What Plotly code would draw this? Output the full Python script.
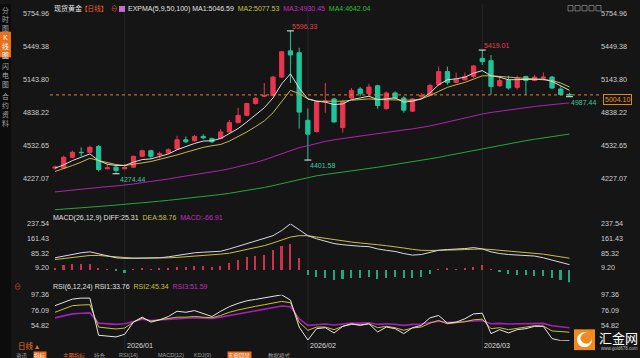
import plotly.graph_objects as go
import pandas as pd

W, H = 640, 358
BG = "#151515"
FONT = "Liberation Sans, Noto Sans CJK SC, sans-serif"

# ---------------- data ----------------
dates = [d.strftime("%Y-%m-%d") for d in pd.bdate_range("2025-12-19", "2026-03-16")
         if d.strftime("%Y-%m-%d") not in ("2025-12-25", "2026-01-01")]

opens = [4327, 4327, 4427, 4473, 4473, 4528, 4321, 4336, 4321, 4336,
         4436, 4488, 4449, 4467, 4504, 4589, 4580, 4620, 4601, 4601,
         4662, 4748, 4815, 4925, 4992, 4998, 5169, 5412, 5394, 4769,
         4665, 4940, 4967, 4702, 4976, 5059, 5016, 5089, 4876, 5022,
         4976, 4854, 4992, 4998, 5098, 5220, 5120, 5144, 5175, 5342,
         5321, 5089, 5138, 5074, 5175, 5138, 5159, 5169, 5059, 5010]
highs = [4351, 4443, 4488, 4519, 4534, 4540, 4366, 4345, 4366, 4443,
         4497, 4497, 4479, 4510, 4626, 4620, 4632, 4641, 4610, 4687,
         4772, 4885, 4931, 4985, 5114, 5181, 5413, 5596.33, 5440, 4879,
         4952, 5114, 4976, 4961, 5068, 5077, 5107, 5098, 5037, 5037,
         4992, 4976, 5022, 5107, 5266, 5266, 5211, 5211, 5281, 5419.01,
         5373, 5181, 5181, 5181, 5181, 5190, 5211, 5181, 5083, 5025]
lows = [4314, 4321, 4418, 4436, 4467, 4296, 4314, 4274.44, 4314, 4330,
        4427, 4412, 4418, 4458, 4497, 4559, 4571, 4595, 4559, 4595,
        4656, 4741, 4809, 4915, 4985, 4992, 5159, 5114, 4693, 4401.58,
        4656, 4839, 4748, 4656, 4967, 4992, 4992, 4876, 4870, 4967,
        4839, 4845, 4976, 4992, 5089, 5098, 5114, 5138, 5159, 5281,
        5007, 5077, 5053, 5053, 5007, 5129, 5144, 5059, 4998, 4987.44]
closes = [4336, 4427, 4473, 4470, 4519, 4314, 4330, 4305, 4333, 4436,
          4488, 4436, 4461, 4497, 4589, 4571, 4620, 4607, 4571, 4662,
          4748, 4815, 4925, 4973, 4998, 5169, 5403, 5373, 4845, 4641,
          4940, 4946, 4754, 4940, 5046, 5016, 5077, 4906, 5022, 4976,
          4863, 4967, 4998, 5092, 5220, 5120, 5150, 5175, 5272, 5312,
          5083, 5138, 5068, 5159, 5138, 5169, 5169, 5068, 5007, 5004.10]

ema5 = [4327, 4357, 4397, 4427, 4458, 4397, 4363, 4351, 4351, 4382,
        4406, 4412, 4437, 4458, 4497, 4528, 4555, 4577, 4580, 4601,
        4650, 4693, 4754, 4824, 4885, 4976, 5107, 5199, 5068, 4967,
        4946, 4937, 4915, 4921, 4961, 4976, 4992, 4961, 4967, 4976,
        4937, 4946, 4967, 5022, 5098, 5144, 5153, 5168, 5205, 5229,
        5181, 5168, 5144, 5144, 5144, 5144, 5150, 5129, 5089, 5046.59]
ema9 = [4296, 4321, 4351, 4382, 4418, 4397, 4375, 4360, 4351, 4360,
        4375, 4388, 4406, 4424, 4449, 4473, 4497, 4519, 4534, 4546,
        4577, 4619, 4662, 4711, 4763, 4839, 4946, 5046, 5016, 4967,
        4946, 4946, 4946, 4946, 4955, 4961, 4967, 4961, 4961, 4961,
        4955, 4955, 4967, 4998, 5037, 5074, 5098, 5120, 5150, 5181,
        5181, 5175, 5169, 5162, 5159, 5156, 5150, 5138, 5114, 5077.53]
ema50 = [4107, 4116, 4125, 4135, 4144, 4150, 4156, 4162, 4168, 4180,
         4193, 4202, 4214, 4226, 4241, 4253, 4266, 4278, 4290, 4305,
         4321, 4339, 4357, 4379, 4403, 4430, 4461, 4491, 4516, 4534,
         4555, 4574, 4589, 4601, 4613, 4626, 4638, 4650, 4662, 4671,
         4680, 4690, 4702, 4717, 4735, 4754, 4772, 4790, 4809, 4827,
         4842, 4854, 4867, 4879, 4888, 4897, 4906, 4912, 4921, 4930.45]
ema100 = [3942, 3947, 3953, 3959, 3965, 3972, 3978, 3985, 3991, 3998,
          4006, 4013, 4021, 4029, 4037, 4046, 4055, 4064, 4073, 4083,
          4094, 4106, 4119, 4133, 4148, 4165, 4184, 4204, 4222, 4240,
          4256, 4268, 4278, 4289, 4300, 4312, 4324, 4335, 4347, 4359,
          4371, 4383, 4396, 4410, 4426, 4443, 4459, 4475, 4492, 4508,
          4523, 4538, 4553, 4568, 4581, 4594, 4606, 4617, 4630, 4642.04]

diff = [61, 70, 78, 87, 92, 82, 70, 61, 58, 59,
        61, 61, 61, 66, 73, 82, 87, 90, 92, 95,
        107, 121, 135, 147, 159, 176, 203, 237.54, 207, 176,
        160, 147, 135, 129, 124, 121, 119, 107, 100, 94,
        83, 75, 78, 90, 100, 104, 105, 109, 114, 107,
        92, 83, 78, 76, 73, 70, 61, 49, 39, 25.31]
dea = [52, 58, 63, 68, 73, 73, 70, 64, 61, 59,
       59, 59, 59, 61, 63, 66, 70, 73, 76, 80,
       85, 94, 104, 114, 124, 138, 155, 169, 176, 176,
       169, 162, 155, 148, 143, 138, 135, 129, 124, 119,
       112, 105, 100, 99, 99, 100, 102, 104, 105, 107,
       104, 100, 95, 92, 88, 85, 80, 73, 66, 58.76]
macd_hist = [8, 22, 28, 30, 32, 10, 3, -8, -15, 3,
             4, 3, 5, 6, 15, 15, 18, 18, 16, 20,
             35, 50, 68, 72, 78, 100, 124, 135, 62, -30,
             -40, -45, -52, -50, -42, -42, -40, -48, -42, -40,
             -44, -44, -38, -20, 3, 5, 3, 8, 12, 22,
             2, -12, -25, -28, -30, -32, -34, -44, -56, -66.91]

rsi1 = [82.3, 86.8, 91.4, 92.8, 92.8, 41.1, 39.7, 38.8, 42.5, 59.4,
        66.3, 59.4, 62.6, 67.2, 74.5, 73.1, 75.4, 70.8, 67.2, 74.5,
        80.9, 85.5, 89.1, 91.0, 92.8, 94.6, 97.36, 90.0, 52.5, 34.5,
        50.3, 51.6, 44.3, 53.5, 57.1, 54.8, 57.1, 45.7, 52.5, 50.3,
        43.4, 51.6, 54.8, 65.3, 68.6, 58.0, 59.4, 64.0, 70.8, 71.8,
        43.4, 48.9, 44.3, 48.9, 50.3, 53.5, 53.5, 36.5, 33.55, 33.76]
rsi2 = [73.1, 77.7, 82.3, 83.2, 83.6, 52.5, 51.2, 49.8, 51.2, 59.4,
        64.9, 60.8, 62.6, 64.4, 66.3, 66.3, 67.2, 66.3, 65.4, 68.6,
        73.1, 76.3, 79.1, 81.4, 83.6, 85.9, 88.2, 86.4, 59.4, 48.0,
        52.5, 52.5, 48.9, 53.5, 56.2, 55.7, 57.1, 51.6, 53.5, 51.6,
        48.0, 51.2, 52.5, 58.0, 61.7, 57.1, 58.0, 59.9, 62.6, 63.5,
        50.3, 51.6, 48.9, 51.2, 52.5, 54.4, 53.9, 47.1, 46.5, 45.34]
rsi3 = [65.3, 68.1, 70.8, 71.8, 72.2, 58.0, 57.1, 56.2, 57.1, 60.8,
        63.5, 61.7, 62.6, 63.5, 64.4, 64.9, 65.4, 64.9, 64.4, 66.3,
        68.6, 70.8, 73.1, 75.4, 77.2, 79.1, 81.8, 80.9, 64.0, 54.8,
        56.2, 56.7, 55.3, 57.1, 58.0, 58.0, 58.5, 56.2, 57.1, 56.2,
        54.8, 56.2, 56.7, 58.9, 60.8, 58.9, 59.4, 59.9, 61.2, 61.7,
        57.1, 57.6, 56.7, 57.1, 57.6, 58.0, 57.6, 54.4, 52.5, 51.59]

price_ticks = [4227.07, 4532.65, 4838.22, 5143.80, 5449.38, 5754.96]
price_min = 3921.49
macd_ticks = [9.20, 85.32, 161.43, 237.54]
macd_min = -66.91
rsi_ticks = [54.82, 76.09, 97.36]
rsi_min = 33.55

month_starts = ["2026-01-02", "2026-02-02", "2026-03-02"]
month_labels = ["2026/01", "2026/02", "2026/03"]

high_marks = [27, 49]       # indices of labelled highs
low_marks = [7, 29, 59]     # indices of labelled lows

# ---------------- colours ----------------
UP, DOWN = "#e8364e", "#1ec49a"
C_E5, C_E9, C_E50, C_E100 = "#dcdcdc", "#c8b850", "#b022b0", "#22a83a"
C_Y, C_M = "#c8c040", "#c02cc0"


def px(x):
    return x / W


def py(y):
    return 1 - y / H


fig = go.Figure()

fig.add_trace(go.Candlestick(
    x=dates, open=opens, high=highs, low=lows, close=closes,
    increasing=dict(line=dict(color=UP, width=1), fillcolor=UP),
    decreasing=dict(line=dict(color=DOWN, width=1), fillcolor=DOWN),
    yaxis="y", hoverinfo="skip"))

for arr, col in [(ema100, C_E100), (ema50, C_E50), (ema9, C_E9), (ema5, C_E5)]:
    fig.add_trace(go.Scatter(x=dates, y=arr, mode="lines", yaxis="y",
                             line=dict(color=col, width=1), hoverinfo="skip"))

fig.add_trace(go.Scatter(
    x=[dates[i] for i in high_marks] + [dates[i] for i in low_marks],
    y=[highs[i] for i in high_marks] + [lows[i] for i in low_marks],
    mode="markers", yaxis="y",
    marker=dict(symbol="line-ew", size=5, line=dict(color="#f0f0f0", width=1)),
    hoverinfo="skip"))

fig.add_trace(go.Bar(x=dates, y=macd_hist, yaxis="y2", width=0.18,
                     marker=dict(color=["#d0304c" if v >= 0 else "#1fa77f" for v in macd_hist],
                                 line=dict(width=0)),
                     hoverinfo="skip"))
fig.add_trace(go.Scatter(x=dates, y=dea, mode="lines", yaxis="y2",
                         line=dict(color=C_Y, width=1), hoverinfo="skip"))
fig.add_trace(go.Scatter(x=dates, y=diff, mode="lines", yaxis="y2",
                         line=dict(color="#d8d8e8", width=1), hoverinfo="skip"))

fig.add_trace(go.Scatter(x=dates, y=rsi3, mode="lines", yaxis="y3",
                         line=dict(color="#a020b8", width=1.6), hoverinfo="skip"))
fig.add_trace(go.Scatter(x=dates, y=rsi2, mode="lines", yaxis="y3",
                         line=dict(color=C_Y, width=1), hoverinfo="skip"))
fig.add_trace(go.Scatter(x=dates, y=rsi1, mode="lines", yaxis="y3",
                         line=dict(color="#e6e6e6", width=1), hoverinfo="skip"))

# invisible traces to materialise right-hand axes
for ax, val in [("y4", closes[0]), ("y5", diff[0]), ("y6", rsi1[0])]:
    fig.add_trace(go.Scatter(x=[dates[0]], y=[val], yaxis=ax, mode="markers",
                             marker=dict(opacity=0), hoverinfo="skip"))


def fmt(v):
    return f"{v:.2f}"


def yax(domain, rng, ticks, side="left", overlay=None):
    d = dict(range=rng, tickmode="array", tickvals=ticks, ticktext=[fmt(t) for t in ticks],
             showgrid=False, zeroline=False, showline=False, ticks="", ticklen=0,
             tickfont=dict(size=7.2, color="#cfcfcf", family=FONT), side=side,
             anchor="x", fixedrange=True)
    if overlay:
        d["overlaying"] = overlay
    else:
        d["domain"] = domain
    return d


main_rng = [price_min, price_ticks[-1] + 0.5]
macd_rng = [macd_min, macd_ticks[-1] + 0.3]
rsi_rng = [rsi_min, rsi_ticks[-1] + 0.15]

dom_main = [py(210.3), py(9.8)]
dom_macd = [py(281.5), py(222.3)]
dom_rsi = [py(340.5), py(294)]

fig.update_layout(
    width=W, height=H, margin=dict(l=0, r=0, t=0, b=0),
    paper_bgcolor=BG, plot_bgcolor=BG, showlegend=False, hovermode=False,
    font=dict(family=FONT, size=7, color="#cfcfcf"),
    xaxis=dict(type="category", range=[(50 - 55) / 8.72, (600 - 55) / 8.72],
               domain=[px(50), px(600)], showgrid=False, zeroline=False, showline=False,
               showticklabels=False, ticks="", anchor="y3", fixedrange=True,
               rangeslider=dict(visible=False)),
    yaxis=yax(dom_main, main_rng, price_ticks),
    yaxis2=yax(dom_macd, macd_rng, macd_ticks),
    yaxis3=yax(dom_rsi, rsi_rng, rsi_ticks),
    yaxis4=yax(None, main_rng, price_ticks, side="right", overlay="y"),
    yaxis5=yax(None, macd_rng, macd_ticks, side="right", overlay="y2"),
    yaxis6=yax(None, rsi_rng, rsi_ticks, side="right", overlay="y3"),
    bargap=0,
)

shapes = []
ann = []


def A(text, x, y, size=7, color="#d0d0d0", xanchor="left", yanchor="middle", **kw):
    d = dict(text=text, x=px(x), y=py(y), xref="paper", yref="paper", xanchor=xanchor,
             yanchor=yanchor, showarrow=False, font=dict(size=size, color=color, family=FONT))
    d.update(kw)
    return d


# month separators and labels
for d0, lab in zip(month_starts, month_labels):
    shapes.append(dict(type="line", xref="x", x0=d0, x1=d0, yref="paper", y0=py(350), y1=1,
                       line=dict(color="#262626", width=1), layer="below"))
    ann.append(dict(text=lab, x=d0, xref="x", y=py(345.5), yref="paper", xanchor="left",
                    yanchor="middle", showarrow=False, xshift=0,
                    font=dict(size=7.2, color="#dcdcdc", family=FONT)))

# current price line + box
shapes.append(dict(type="line", xref="paper", x0=px(50), x1=px(600), yref="y",
                   y0=closes[-1], y1=closes[-1], line=dict(color="#d98a2a", width=1, dash="dot")))
ann.append(dict(text=fmt(closes[-1]), x=px(603), xref="paper", y=closes[-1], yref="y",
                xanchor="left", yanchor="middle", yshift=-5, showarrow=False,
                bordercolor="#d98a2a", borderwidth=1, borderpad=1, bgcolor=BG,
                font=dict(size=7, color="#e8902c", family=FONT)))

# extreme labels
for i in high_marks:
    ann.append(dict(text=fmt(highs[i]), x=dates[i], xref="x", y=highs[i], yref="y",
                    xanchor="left", yanchor="bottom", showarrow=False, yshift=-1,
                    font=dict(size=7, color="#e8404a", family=FONT)))
for i in low_marks:
    ann.append(dict(text=fmt(lows[i]), x=dates[i], xref="x", y=lows[i], yref="y",
                    xanchor="left", yanchor="top", showarrow=False, xshift=2 if i == 7 else 0,
                    font=dict(size=7, color="#3cc8a0", family=FONT)))

# header
ann.append(A("现货黄金", 52, 5, color="#e6e6e6"))
ann.append(A("【日线】", 79, 5, size=6.6, color="#e8602a"))
ann.append(A("⊖", 109, 5, color="#e8602a", size=6.5))
shapes.append(dict(type="rect", xref="paper", yref="paper", x0=px(119), x1=px(125),
                   y0=py(8), y1=py(2), fillcolor="#c070d0", line=dict(width=0)))
ann.append(A(f"EXPMA(5,9,50,100) MA1:{fmt(ema5[-1])}  "
             f"<span style='color:{C_Y}'>MA2:{fmt(ema9[-1])}</span>  "
             f"<span style='color:{C_M}'>MA3:{fmt(ema50[-1])}</span>  "
             f"<span style='color:#2cc02c'>MA4:{fmt(ema100[-1])}</span>",
             126, 5, color="#e0e0e0"))
for k in range(5):
    x0 = 568 + k * 7
    shapes.append(dict(type="rect", xref="paper", yref="paper", x0=px(x0), x1=px(x0 + 5),
                       y0=py(7), y1=py(1.5), line=dict(color="#8a8a8a", width=0.8)))

# MACD legend
ann.append(A(f"MACD(26,12,9) DIFF:{fmt(diff[-1])}  "
             f"<span style='color:{C_Y}'>DEA:{fmt(dea[-1])}</span>  "
             f"<span style='color:{C_M}'>MACD:{fmt(macd_hist[-1])}</span>",
             51, 216.5, color="#e0e0e0"))

# RSI legend
ann.append(A("⊖", 17, 285.5, color="#e0403a", xanchor="center"))
ann.append(A(f"RSI(6,12,24) RSI1:{fmt(rsi1[-1])}  "
             f"<span style='color:{C_Y}'>RSI2:{fmt(rsi2[-1])}</span>  "
             f"<span style='color:{C_M}'>RSI3:{fmt(rsi3[-1])}</span>",
             51, 286.5, color="#e0e0e0"))

# left sidebar
shapes.append(dict(type="rect", xref="paper", yref="paper", x0=0, x1=px(11), y0=0, y1=1,
                   fillcolor="#0c0c0c", line=dict(width=0), layer="below"))
shapes.append(dict(type="rect", xref="paper", yref="paper", x0=0, x1=px(11), y0=py(54),
                   y1=py(28), fillcolor="#e8701c", line=dict(width=0)))
ann.append(A("分<br>时<br>图", 5.5, 0, size=6.8, color="#a8a8a8", xanchor="center", yanchor="top"))
ann.append(A("K<br>线<br>图", 5.5, 28.5, size=6.8, color="#ffffff", xanchor="center", yanchor="top"))
ann.append(A("闪<br>电<br>图", 5.5, 57, size=6.8, color="#a8a8a8", xanchor="center", yanchor="top"))
ann.append(A("合<br>约<br>资<br>料", 5.5, 87, size=6.8, color="#a8a8a8", xanchor="center", yanchor="top"))

# bottom bar
ann.append(A("日线 ▴", 16, 346, color="#e8702a", size=7.5))
bottom_items = [("资讯", 15, "#a0a0a0", None), ("指标", 33, "#ffffff", "#e8701c"),
                ("主图指标", 62, "#e8702a", None), ("持仓", 93, "#a0a0a0", None),
                ("RSI(14)", 118, "#a0a0a0", None), ("MACD(12)", 157, "#a0a0a0", None),
                ("KDJ(9)", 193, "#a0a0a0", None), ("五窗同显", 227, "#ffffff", "#e8701c"),
                ("数据模式", 267, "#a0a0a0", None)]
for t, x, c, bg in bottom_items:
    d = A(t, x, 350.8, size=5.5, color=c, yanchor="top", borderpad=0)
    if bg:
        d["bgcolor"] = bg
    ann.append(d)

# watermark
shapes.append(dict(type="rect", xref="paper", yref="paper", x0=px(574), x1=px(595),
                   y0=py(350), y1=py(329), fillcolor="#f08a1e", line=dict(width=0)))
shapes.append(dict(type="circle", xref="paper", yref="paper", x0=px(577), x1=px(592),
                   y0=py(347), y1=py(332), fillcolor="#ffffff", line=dict(width=0)))
shapes.append(dict(type="circle", xref="paper", yref="paper", x0=px(580.5), x1=px(592),
                   y0=py(343.5), y1=py(332.5), fillcolor="#f08a1e", line=dict(width=0)))
ann.append(A("汇金网", 597, 338.5, size=13, color="#ffffff"))
ann.append(A("www.gold678.com", 599, 348.5, size=4.5, color="#bbbbbb"))

fig.update_layout(shapes=shapes, annotations=ann)
fig.write_html("out.html")
